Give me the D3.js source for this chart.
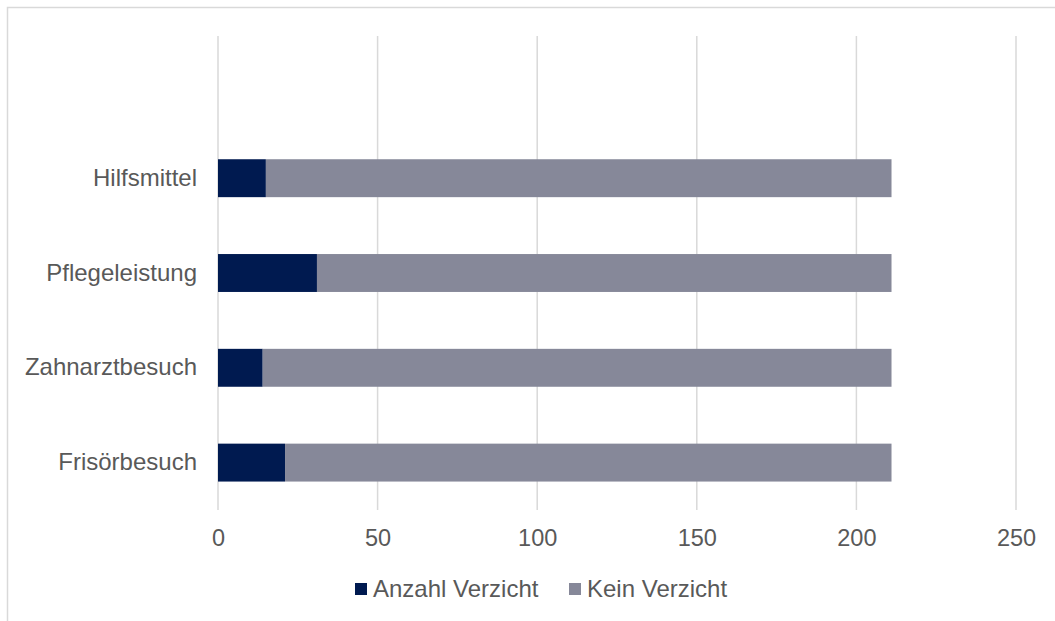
<!DOCTYPE html>
<html>
<head>
<meta charset="UTF-8">
<title>Verzicht</title>
<script src="https://cdnjs.cloudflare.com/ajax/libs/d3/7.8.5/d3.min.js"></script>
<style>
  body { margin: 0; background: #fff; }
  svg text { font-family: "Liberation Sans", Arial, sans-serif; fill: #595959; }
</style>
</head>
<body>
<div id="chart"></div>
<script>
// Data, bottom to top as in the picture
var categories = ["Frisörbesuch", "Zahnarztbesuch", "Pflegeleistung", "Hilfsmittel"];
var anzahlVerzicht = [21, 14, 31, 15];
var keinVerzicht = [190, 197, 180, 196];
var seriesNames = ["Anzahl Verzicht", "Kein Verzicht"];
var seriesColors = ["#001a50", "#868899"];
var xTicks = [0, 50, 100, 150, 200, 250];

var w = 1055, h = 621;
var plotLeft = 218, plotRight = 1016, plotTop = 36, plotBottom = 510;

var svg = d3.select("#chart").append("svg")
    .attr("width", w)
    .attr("height", h);

// outer chart frame
svg.append("rect")
    .attr("x", 7.5).attr("y", 7.5)
    .attr("width", w + 10).attr("height", h + 10)
    .attr("fill", "none")
    .attr("stroke", "#d9d9d9")
    .attr("stroke-width", 1.5);

var x = d3.scaleLinear().domain([0, 250]).range([plotLeft, plotRight]);

// an empty slot at the top, as the original plot area leaves one
var slots = [""].concat(categories.slice().reverse());
var y = d3.scaleBand().domain(slots).range([plotTop, plotBottom]).paddingInner(0.6).paddingOuter(0.3);

// gridlines
svg.append("g")
    .selectAll("line")
    .data(xTicks)
    .join("line")
    .attr("x1", function(d) { return x(d); })
    .attr("x2", function(d) { return x(d); })
    .attr("y1", plotTop)
    .attr("y2", plotBottom)
    .attr("stroke", "#d9d9d9")
    .attr("stroke-width", 1.5);

// stacked bars
var rows = categories.map(function(c, i) {
    return { cat: c, a: anzahlVerzicht[i], k: keinVerzicht[i] };
});
var layers = d3.stack().keys(["a", "k"])(rows);

svg.append("g")
    .selectAll("g")
    .data(layers)
    .join("g")
    .attr("fill", function(d, i) { return seriesColors[i]; })
    .selectAll("rect")
    .data(function(d) { return d; })
    .join("rect")
    .attr("x", function(d) { return x(d[0]); })
    .attr("width", function(d) { return x(d[1]) - x(d[0]); })
    .attr("y", function(d) { return y(d.data.cat); })
    .attr("height", y.bandwidth());

// x axis labels
var xAxis = d3.axisBottom(x).tickValues(xTicks).tickSize(0).tickPadding(0);
var gx = svg.append("g")
    .attr("transform", "translate(0," + plotBottom + ")")
    .call(xAxis);
gx.select(".domain").remove();
gx.selectAll("text")
    .attr("y", 28)
    .attr("dy", "0.35em")
    .style("font-size", "23.5px")
    .style("font-family", "'Liberation Sans', Arial, sans-serif")
    .style("fill", "#595959");

// y axis labels
var yAxis = d3.axisLeft(y).tickValues(categories).tickSize(0).tickPadding(21);
var gy = svg.append("g")
    .attr("transform", "translate(" + plotLeft + ",0)")
    .call(yAxis);
gy.select(".domain").remove();
gy.selectAll("text")
    .style("font-size", "24px")
    .style("font-family", "'Liberation Sans', Arial, sans-serif")
    .style("fill", "#595959");

// legend
var legendX = [355, 569];
var legend = svg.append("g")
    .selectAll("g")
    .data(seriesNames)
    .join("g")
    .attr("transform", function(d, i) { return "translate(" + legendX[i] + ",583)"; });
legend.append("rect")
    .attr("width", 12).attr("height", 12)
    .attr("fill", function(d, i) { return seriesColors[i]; });
legend.append("text")
    .attr("x", 18)
    .attr("y", 6)
    .attr("dy", "0.35em")
    .style("font-size", "24px")
    .text(function(d) { return d; });
</script>
</body>
</html>
